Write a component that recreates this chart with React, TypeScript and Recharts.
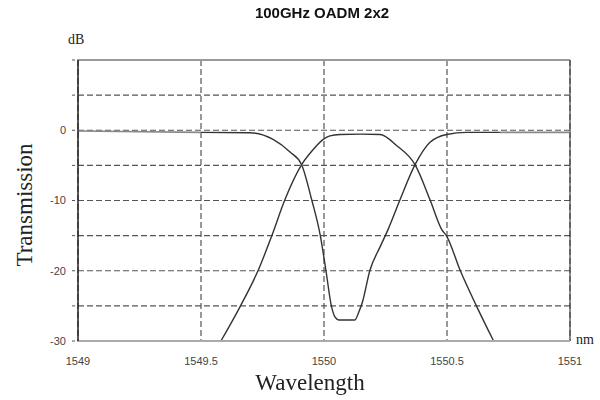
import { LineChart, Line, XAxis, YAxis, CartesianGrid, ReferenceLine } from "recharts";

// drop port (bandpass)
const dropWl = [1549.581, 1549.659, 1549.733, 1549.787, 1549.841, 1549.909, 1549.957, 1549.997, 1550.024, 1550.065, 1550.15, 1550.228, 1550.296, 1550.37, 1550.431, 1550.478, 1550.499, 1550.553, 1550.621, 1550.688];
const dropDb = [-30, -25.1, -19.9, -15.1, -9.9, -4.9, -2.7, -1.3, -0.8, -0.6, -0.55, -0.6, -2.2, -4.9, -9.9, -14.1, -15.1, -19.9, -25.1, -29.9];

// through port (notch)
const thruWl = [1549.5, 1549.699, 1549.793, 1549.862, 1549.909, 1549.95, 1549.985, 1550.008, 1550.03, 1550.045, 1550.06, 1550.126, 1550.14, 1550.155, 1550.187, 1550.228, 1550.262, 1550.309, 1550.37, 1550.431, 1550.499, 1550.58, 1550.715];
const thruDb = [-0.3, -0.35, -1.3, -3.1, -4.9, -9.9, -15, -20, -25, -26.6, -27, -27, -26, -24.6, -19.9, -16.6, -14, -9.9, -4.9, -1.7, -0.6, -0.3, -0.3];

// faint ends of the through trace
const leftWl = [1549, 1549.5];
const leftDb = [-0.1, -0.3];
const rightWl = [1550.715, 1551];
const rightDb = [-0.3, -0.3];

const xTicks = [1549, 1549.5, 1550, 1550.5, 1551];
const yTicks = [-30, -25, -20, -15, -10, -5, 0, 5, 10];

const toRows = (wl: number[], db: number[]) => wl.map((w, i) => ({ wl: w, db: db[i] }));

const serif = "'Liberation Serif', 'Times New Roman', serif";
const sans = "'Liberation Sans', Arial, sans-serif";

export default function App() {
  return (
    <div style={{ position: "fixed", left: 0, top: 0, width: 600, height: 400, background: "#fff" }}>
      <LineChart width={600} height={400} margin={{ top: 60, right: 30, left: 0, bottom: 29 }}>
        <CartesianGrid stroke="#555" strokeDasharray="6 3" strokeWidth={1.2} />
        <XAxis
          dataKey="wl"
          type="number"
          domain={[1549, 1551]}
          ticks={xTicks}
          allowDuplicatedCategory={false}
          height={30}
          tickSize={0}
          tickMargin={16}
          tick={{ fontSize: 11, fill: "#444", fontFamily: sans }}
          axisLine={{ stroke: "#aaa", strokeWidth: 2 }}
        />
        <YAxis
          dataKey="db"
          type="number"
          domain={[-30, 10]}
          ticks={yTicks}
          width={78}
          tickSize={6}
          tickMargin={6}
          tickFormatter={(v: number) => (v <= 0 && v % 10 === 0 ? String(v) : "")}
          tick={{ fontSize: 11, fill: "#444", fontFamily: sans }}
          tickLine={{ stroke: "#555", strokeDasharray: "3 2" }}
          axisLine={{ stroke: "#222", strokeWidth: 1.5 }}
        />
        <ReferenceLine y={10} stroke="#999" strokeWidth={2} />
        <ReferenceLine x={1551} stroke="#444" strokeWidth={1.2} />
        <Line data={toRows(leftWl, leftDb)} dataKey="db" stroke="#888" strokeWidth={1.6} dot={false} isAnimationActive={false} />
        <Line data={toRows(rightWl, rightDb)} dataKey="db" stroke="#888" strokeWidth={1.6} dot={false} isAnimationActive={false} />
        <Line type="monotone" data={toRows(thruWl, thruDb)} dataKey="db" stroke="#333" strokeWidth={1.4} dot={false} isAnimationActive={false} />
        <Line type="monotone" data={toRows(dropWl, dropDb)} dataKey="db" stroke="#333" strokeWidth={1.4} dot={false} isAnimationActive={false} />
      </LineChart>
      <div style={{ position: "absolute", left: 0, width: 644, top: 4, textAlign: "center", fontFamily: sans, fontWeight: "bold", fontSize: 15, color: "#111" }}>
        100GHz OADM 2x2
      </div>
      <div style={{ position: "absolute", left: 68, top: 32, fontFamily: serif, fontSize: 14, color: "#222" }}>dB</div>
      <div style={{ position: "absolute", left: 576, top: 332, fontFamily: serif, fontSize: 14, color: "#222" }}>nm</div>
      <div style={{ position: "absolute", left: 0, width: 620, top: 370, textAlign: "center", fontFamily: serif, fontSize: 23, color: "#222" }}>
        Wavelength
      </div>
      <div
        style={{
          position: "absolute",
          left: 25,
          top: 205,
          transform: "translate(-50%, -50%) rotate(-90deg)",
          whiteSpace: "nowrap",
          fontFamily: serif,
          fontSize: 23,
          color: "#222",
        }}
      >
        Transmission
      </div>
    </div>
  );
}
